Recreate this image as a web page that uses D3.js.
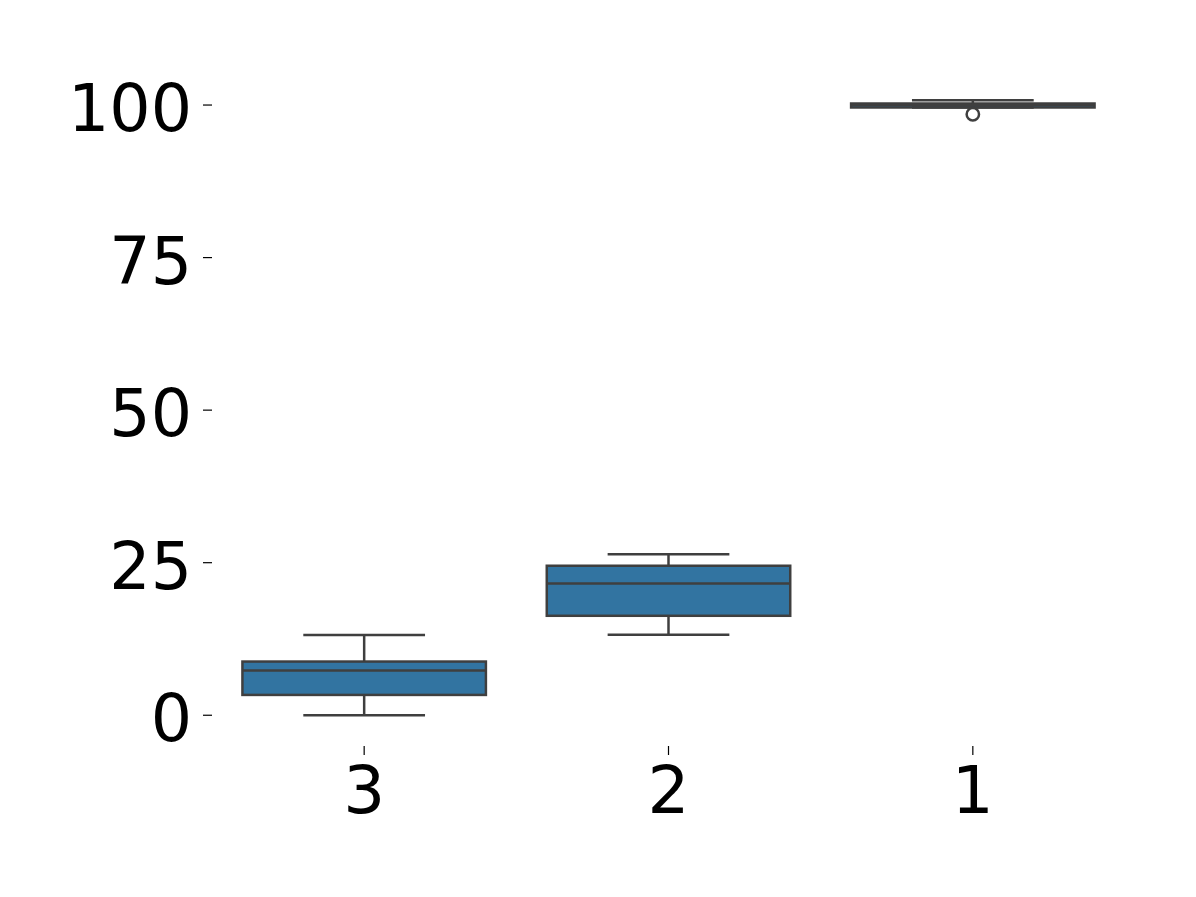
<!DOCTYPE html>
<html>
<head>
<meta charset="utf-8">
<title>Boxplot</title>
<style>
  body { margin: 0; background: #fff; }
  svg { display: block; font-family: "DejaVu Sans", sans-serif; }
</style>
</head>
<body>
<svg width="1196" height="897"></svg>
<script src="https://d3js.org/d3.v7.min.js"></script>
<script>
// values
var categories = ["3", "2", "1"];
var whiskerLow  = [0.0, 13.2, 99.6];
var q1          = [3.33, 16.3, 99.6];
var median      = [7.33, 21.6, 100.0];
var q3          = [8.8, 24.5, 100.25];
var whiskerHigh = [13.16, 26.4, 100.8];
var outliers    = [[], [], [98.5]];
var yTicks      = [0, 25, 50, 75, 100];

var svg = d3.select("svg");

var boxFill = "#3274a1",
    lineColor = "#3f3f3f";

var x = d3.scaleBand().domain(categories).range([212, 1125]).padding(0);
var y = d3.scaleLinear().domain([-5.04, 105.84]).range([746, 69.4]);

var boxW = x.bandwidth() * 0.8;
var capW = boxW / 2;

var boxes = categories.map(function(c, i) {
  return {cat: c, lo: whiskerLow[i], q1: q1[i], med: median[i], q3: q3[i], hi: whiskerHigh[i], out: outliers[i]};
});

// y axis ticks and labels
var yAxis = svg.append("g");
yAxis.selectAll("line").data(yTicks).enter().append("line")
    .attr("x1", 203).attr("x2", 212)
    .attr("y1", function(d) { return y(d); })
    .attr("y2", function(d) { return y(d); })
    .attr("stroke", "#000").attr("stroke-width", 1.2);
yAxis.selectAll("text").data(yTicks).enter().append("text")
    .attr("x", 192)
    .attr("y", function(d) { return y(d); })
    .attr("dy", "0.4em")
    .attr("text-anchor", "end")
    .style("font-size", "65px")
    .attr("fill", "#000")
    .text(function(d) { return d; });

// x axis ticks and labels
var xAxis = svg.append("g");
xAxis.selectAll("line").data(categories).enter().append("line")
    .attr("x1", function(d) { return x(d) + x.bandwidth() / 2; })
    .attr("x2", function(d) { return x(d) + x.bandwidth() / 2; })
    .attr("y1", 746).attr("y2", 755)
    .attr("stroke", "#000").attr("stroke-width", 1.2);
xAxis.selectAll("text").data(categories).enter().append("text")
    .attr("x", function(d) { return x(d) + x.bandwidth() / 2; })
    .attr("y", 813)
    .attr("text-anchor", "middle")
    .style("font-size", "66px")
    .attr("fill", "#000")
    .text(function(d) { return d; });

var g = svg.selectAll(".box")
    .data(boxes)
  .enter().append("g")
    .attr("class", "box")
    .attr("transform", function(d) { return "translate(" + (x(d.cat) + x.bandwidth() / 2) + ",0)"; });

g.append("rect")
    .attr("x", -boxW / 2)
    .attr("width", boxW)
    .attr("y", function(d) { return y(d.q3); })
    .attr("height", function(d) { return y(d.q1) - y(d.q3); })
    .attr("fill", boxFill)
    .attr("stroke", lineColor)
    .attr("stroke-width", 2.5);

// whiskers
g.append("line")
    .attr("x1", 0).attr("x2", 0)
    .attr("y1", function(d) { return y(d.q1); })
    .attr("y2", function(d) { return y(d.lo); })
    .attr("stroke", lineColor).attr("stroke-width", 2.5);
g.append("line")
    .attr("x1", 0).attr("x2", 0)
    .attr("y1", function(d) { return y(d.q3); })
    .attr("y2", function(d) { return y(d.hi); })
    .attr("stroke", lineColor).attr("stroke-width", 2.5);

// caps
g.append("line")
    .attr("x1", -capW / 2).attr("x2", capW / 2)
    .attr("y1", function(d) { return y(d.lo); })
    .attr("y2", function(d) { return y(d.lo); })
    .attr("stroke", lineColor).attr("stroke-width", 2.5);
g.append("line")
    .attr("x1", -capW / 2).attr("x2", capW / 2)
    .attr("y1", function(d) { return y(d.hi); })
    .attr("y2", function(d) { return y(d.hi); })
    .attr("stroke", lineColor).attr("stroke-width", 2.5);

// median
g.append("line")
    .attr("x1", -boxW / 2).attr("x2", boxW / 2)
    .attr("y1", function(d) { return y(d.med); })
    .attr("y2", function(d) { return y(d.med); })
    .attr("stroke", lineColor).attr("stroke-width", 2.5);

// fliers
g.selectAll("circle")
    .data(function(d) { return d.out; })
  .enter().append("circle")
    .attr("cx", 0)
    .attr("cy", function(v) { return y(v); })
    .attr("r", 6.2)
    .attr("fill", "none")
    .attr("stroke", lineColor)
    .attr("stroke-width", 2.5);
</script>
</body>
</html>
